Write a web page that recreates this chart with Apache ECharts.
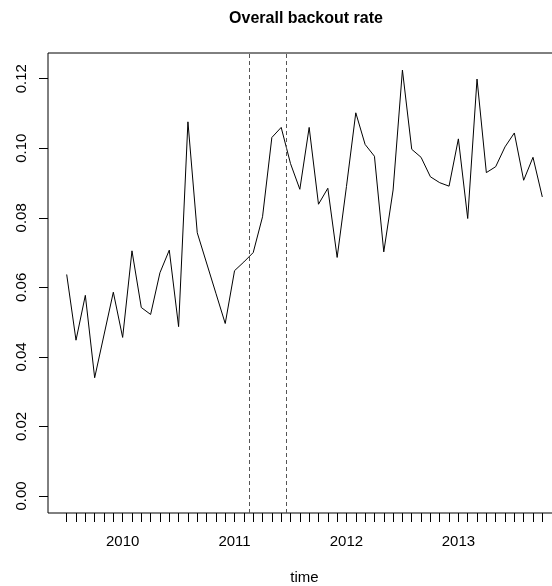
<!DOCTYPE html>
<html><head><meta charset="utf-8">
<script src="https://cdn.jsdelivr.net/npm/echarts@6/dist/echarts.min.js"></script>
<style>html,body{margin:0;padding:0;background:#fff}#c{width:552px;height:586px}</style>
</head><body><div id="c"></div>
<script>
const months = [
  '2009-07','2009-08','2009-09','2009-10','2009-11','2009-12',
  '2010-01','2010-02','2010-03','2010-04','2010-05','2010-06',
  '2010-07','2010-08','2010-09','2010-10','2010-11','2010-12',
  '2011-01','2011-02','2011-03','2011-04','2011-05','2011-06',
  '2011-07','2011-08','2011-09','2011-10','2011-11','2011-12',
  '2012-01','2012-02','2012-03','2012-04','2012-05','2012-06',
  '2012-07','2012-08','2012-09','2012-10','2012-11','2012-12',
  '2013-01','2013-02','2013-03','2013-04','2013-05','2013-06',
  '2013-07','2013-08','2013-09','2013-10'
];
const rates = [
  0.0637,0.0448,0.0577,0.0340,0.0463,0.0586,
  0.0456,0.0705,0.0542,0.0522,0.0642,0.0707,
  0.0487,0.1076,0.0757,0.0670,0.0583,0.0496,
  0.0648,0.0673,0.0700,0.0803,0.1031,0.1060,
  0.0956,0.0882,0.1060,0.0839,0.0885,0.0686,
  0.0890,0.1102,0.1011,0.0977,0.0702,0.0880,
  0.1225,0.0997,0.0974,0.0918,0.0901,0.0891,
  0.1027,0.0798,0.1199,0.0930,0.0947,0.1004,
  0.1044,0.0908,0.0974,0.0860
];
const yearLabels = [2010, 2011, 2012, 2013];
const yTicks = [0, 0.02, 0.04, 0.06, 0.08, 0.10, 0.12];
const eventTimes = [2011.129, 2011.4625];

function toYear(s){ const p = s.split('-').map(Number); return p[0] + (p[1]-1)/12; }
const t = months.map(toYear);
const data = t.map((x,i)=>[x, rates[i]]);
const FONT = 'Liberation Sans';

const chart = echarts.init(document.getElementById('c'), null, {renderer:'canvas'});
chart.setOption({
  animation: false,
  backgroundColor: '#fff',
  textStyle: {fontFamily: FONT},
  graphic: [{
    type: 'text', x: 306, y: 19,
    style: {text: 'Overall backout rate', font: 'bold 16px "Liberation Sans"', fill: '#000', textAlign: 'center', textVerticalAlign: 'middle'}
  }],
  grid: {left: 48, top: 53, width: 513, bottom: 73, outerBoundsMode: 'none', containLabel: false,
         show: true, borderColor: '#000', borderWidth: 1, backgroundColor: 'transparent'},
  xAxis: {
    type: 'value', min: 2009.333, max: 2013.917,
    splitLine: {show: false},
    axisLine: {show: false, onZero: false},
    axisTick: {show: true, customValues: t, length: 9, lineStyle: {color: '#000', width: 1}},
    axisLabel: {customValues: yearLabels, formatter: v => String(Math.round(v)), fontSize: 15, color: '#000', margin: 21, fontFamily: FONT},
    name: 'time', nameLocation: 'middle', nameGap: 57,
    nameTextStyle: {fontSize: 15, color: '#000', fontFamily: FONT}
  },
  yAxis: {
    type: 'value', min: -0.0049, max: 0.1274,
    splitLine: {show: false},
    axisLine: {show: false, onZero: false},
    axisTick: {show: true, customValues: yTicks, length: 9, lineStyle: {color: '#000', width: 1}},
    axisLabel: {customValues: yTicks, formatter: v => v.toFixed(2), rotate: 90, fontSize: 15, color: '#000', margin: 19, fontFamily: FONT}
  },
  series: [{
    type: 'line', data: data, symbol: 'none', silent: true,
    lineStyle: {color: '#000', width: 1},
    markLine: {
      silent: true, symbol: ['none','none'], label: {show: false},
      lineStyle: {color: '#555', width: 1, type: [4,3]},
      emphasis: {disabled: true},
      data: eventTimes.map(v => ({xAxis: v}))
    }
  }]
});
</script></body></html>
